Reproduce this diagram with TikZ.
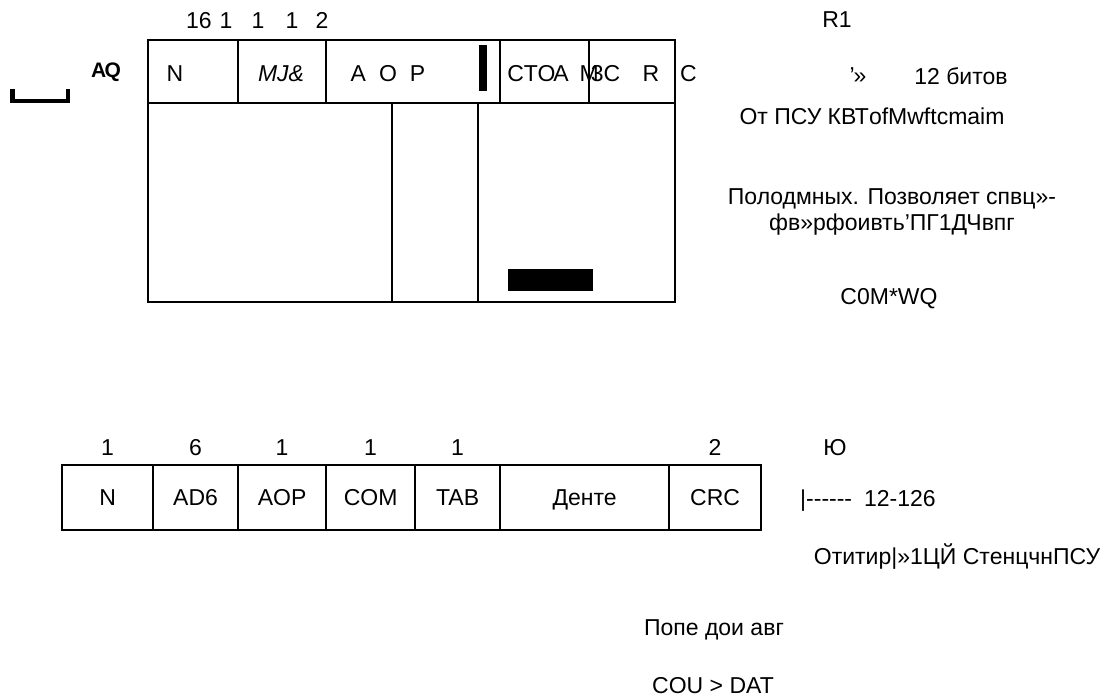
\documentclass[tikz,border=0pt]{standalone}
\usepackage{fontspec}
\setmainfont{Liberation Sans}
\usetikzlibrary{positioning}
\tikzset{cell/.style={draw,line width=2.2pt,inner sep=0pt,anchor=north west,text height=16.5pt,text depth=0pt},
         txt/.style={inner sep=0pt,text height=16.5pt,text depth=0pt}}

\begin{document}
\begin{tikzpicture}[x=1pt,y=-1pt,font=\fontsize{23}{26}\selectfont]
        \useasboundingbox (0,0) rectangle (1120,700);
        % upper frame: header row and body
        \node[cell,minimum width=90,minimum height=63] (hN) at (147,39) {};
        \node[cell,minimum width=88,minimum height=63] (hMJ) at (237,39) {};
        \node[cell,minimum width=174,minimum height=63] (hAOP) at (325,39) {};
        \node[cell,minimum width=89,minimum height=63] (hCTO) at (499,39) {};
        \node[cell,minimum width=86,minimum height=63] (hR) at (588,39) {};
        \node[cell,minimum width=244,minimum height=199] (b1) at (147,102) {};
        \node[cell,minimum width=86,minimum height=199] (b2) at (391,102) {};
        \node[cell,minimum width=197,minimum height=199] (b3) at (477,102) {};
        \fill (479,45) rectangle (487,91);
        \fill (508,269) rectangle (593,291);
        \node[txt] (tN) at (175,73) {N};
        \node[txt] (tMJ) at (281,73) {\itshape MJ\&};
        \node[txt] (tAOP) at (388,73) {A\hspace{13pt}O\hspace{13pt}P};
        \node[txt] (tCTO) at (538,73) {CTO\kern-2pt A};
        \node[txt] (tM) at (600,73) {M\kern-8pt 3C};
        \node[txt] (tR) at (651,73) {R};
        \node[txt,anchor=west] (tC) at (680,73) {C};
        \node[inner sep=0pt] (tAQ) at (106,72) {\fontsize{21}{22}\selectfont\bfseries A\kern-1.5pt Q};
        \coordinate (k1) at (12.5,89);
        \coordinate (k2) at (68,89);
        \draw[line width=4.5pt] (k1) |- (40,101) -| (k2);
        % widths above the header
        \node[txt] (w1) at (199,20) {16};
        \node[txt] (w2) at (226,20) {1};
        \node[txt] (w3) at (258,20) {1};
        \node[txt] (w4) at (292,20) {1};
        \node[txt] (w5) at (322,20) {2};
        \node[txt] (r1) at (837,19) {R1};
        % notes on the right
        \node[txt] (q1) at (858,75) {'\kern-1pt»};
        \node[txt] (q2) at (961,76) {12 битов};
        \node[txt] (q3) at (872,116) {От ПСУ КВТofMwftcmaim};
        \node[txt] (q4) at (892,196) {Полодмных. Позволяет спвц»-};
        \node[txt] (q5) at (892,222) {фв»рфоивть’ПГ1ДЧвпг};
        \node[txt] (q6) at (889,296) {C0M*WQ};
        % lower frame
        \node[cell,minimum width=91,minimum height=65] (fN) at (61,464) {N};
        \node[cell,minimum width=85,minimum height=65] (fAD) at (152,464) {AD6};
        \node[cell,minimum width=88,minimum height=65] (fAOP) at (237,464) {AOP};
        \node[cell,minimum width=89,minimum height=65] (fCOM) at (325,464) {COM};
        \node[cell,minimum width=85,minimum height=65] (fTAB) at (414,464) {TAB};
        \node[cell,minimum width=169,minimum height=65] (fD) at (499,464) {Денте};
        \node[cell,minimum width=92,minimum height=65] (fCRC) at (668,464) {CRC};
        \node[txt,above=8pt of fN] (n1) {1};
        \node[txt,above=8pt of fAD] (n2) {6};
        \node[txt,above=8pt of fAOP] (n3) {1};
        \node[txt,above=8pt of fCOM] (n4) {1};
        \node[txt,above=8pt of fTAB] (n5) {1};
        \node[txt,above=8pt of fCRC] (n6) {2};
        \node[txt] (n7) at (835,447) {Ю};
        \node[txt,anchor=west] (p1) at (800,498) {|-{}-{}-{}-{}-{}-\hspace{12pt}12-126};
        \node[txt] (p2) at (957,556) {Отитир|»1ЦЙ СтенцчнПСУ};
        \node[txt] (p3) at (714,627) {Попе дои авг};
        \node[txt] (p4) at (713,685) {COU > DAT};
\end{tikzpicture}
\end{document}
